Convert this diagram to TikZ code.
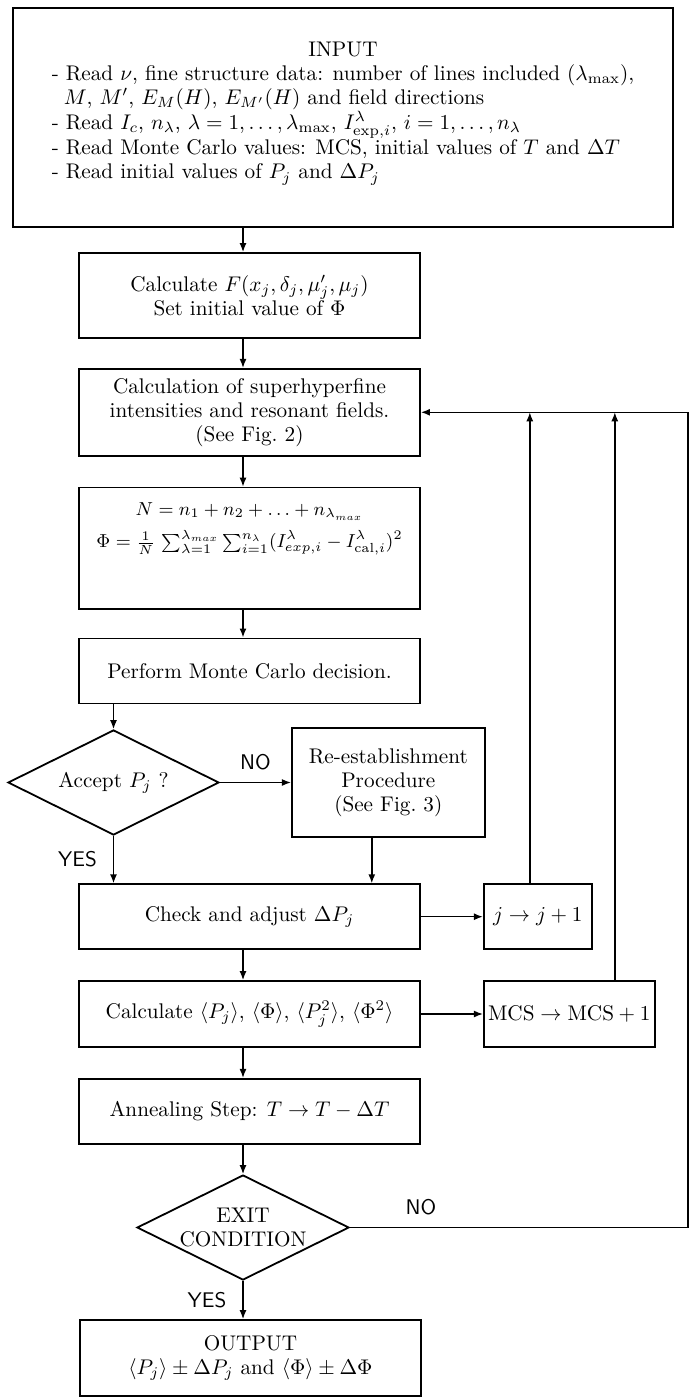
\RequirePackage{fix-cm}
\documentclass[tikz,border=0pt]{standalone}
\usepackage{amsmath}
\usetikzlibrary{arrows.meta,positioning,shapes.geometric}

\begin{document}
\fontsize{10.6}{12}\selectfont
\begin{tikzpicture}[
    x=0.5pt, y=-0.5pt,
    >={Latex[length=4.5pt,width=3.5pt]},
    block/.style={draw, line width=0.9pt, minimum width=170.5pt, align=center, inner sep=2pt},
    decision/.style={draw, diamond, aspect=2, line width=0.9pt, align=center, inner sep=0pt, minimum width=106pt, minimum height=52.5pt},
    arr/.style={->, line width=0.7pt},
    lab/.style={font=\sffamily, inner sep=2pt}
]
    \useasboundingbox (0,0) rectangle (690,1400);
    \coordinate (spine) at (243,0);
    \coordinate (rim) at (688,0);

    \node[block, minimum width=330pt, minimum height=109.5pt] (input) at (343,117.5) {INPUT\\
        \begin{tabular}[t]{@{}l@{}}
        - Read $\nu$, fine structure data: number of lines included ($\lambda_{\mathrm{max}}$),\\
        \hspace{6pt}$M$, $M'$, $E_M(H)$, $E_{M'}(H)$ and field directions\\
        - Read $I_c$, $n_\lambda$, $\lambda=1,\ldots,\lambda_{\mathrm{max}}$, $I^\lambda_{\mathrm{exp},i}$, $i=1,\ldots,n_\lambda$\\
        - Read Monte Carlo values: MCS, initial values of $T$ and $\Delta T$\\
        - Read initial values of $P_j$ and $\Delta P_j$\rule[-7pt]{0pt}{7pt}
        \end{tabular}};
    \node[block, minimum height=42.5pt] (calcF) at (249.5,295.5) {Calculate $F(x_j,\delta_j,\mu'_j,\mu_j)$\\Set initial value of $\Phi$};
    \node[block, minimum height=43.5pt, below=14.5pt of calcF] (superhf) {Calculation of superhyperfine\\intensities and resonant fields.\\(See Fig.~2)};
    \node[block, minimum height=60.5pt, below=15pt of superhf, font=\fontsize{9.4}{11}\selectfont] (sumbox) {$N=n_1+n_2+\ldots+n_{\lambda_{max}}$\\[4pt]
        $\Phi=\frac{1}{N}\,\sum_{\lambda=1}^{\lambda_{max}}\sum_{i=1}^{n_\lambda}(I^\lambda_{exp,i}-I^\lambda_{\mathrm{cal},i})^2$\rule[-23pt]{0pt}{0pt}};
    \node[block, minimum height=32.5pt, below=14pt of sumbox] (decide) {Perform Monte Carlo decision.};
    \node[decision, minimum width=105.5pt] (accept) at (113.5,782.5) {Accept $P_j$ ?};
    \node[block, minimum width=96.5pt, minimum height=54.5pt, right=35.5pt of accept] (reest) {Re-establishment\\Procedure\\(See Fig.~3)};
    \node[block, minimum height=32.5pt, below=89.5pt of decide] (check) {Check and adjust $\Delta P_j$};
    \node[block, minimum width=54pt, minimum height=32.5pt, right=31pt of check] (jnext) {$j\to j+1$};
    \node[block, minimum height=33pt, below=15pt of check] (calcP) {Calculate $\langle P_j\rangle$, $\langle\Phi\rangle$, $\langle P_j^2\rangle$, $\langle\Phi^2\rangle$};
    \node[block, minimum width=85.5pt, minimum height=33pt, right=31pt of calcP] (mcs) {$\mathrm{MCS}\to\mathrm{MCS}+1$};
    \node[block, minimum height=32.5pt, below=15pt of calcP] (anneal) {Annealing Step: $T\to T-\Delta T$};
    \node[decision] (exit) at (243,1227.5) {EXIT\\CONDITION};
    \node[block, minimum height=38pt] (output) at (250.5,1358) {OUTPUT\\$\langle P_j\rangle\pm\Delta P_j$ and $\langle\Phi\rangle\pm\Delta\Phi$};

    \draw[arr] (input.south -| spine) -- (calcF.north -| spine);
    \draw[arr] (calcF.south -| spine) -- (superhf.north -| spine);
    \draw[arr] (superhf.south -| spine) -- (sumbox.north -| spine);
    \draw[arr] (sumbox.south -| spine) -- (decide.north -| spine);
    \draw[arr] (decide.south -| accept.north) -- (accept.north);
    \draw[arr] (accept.east) -- node[lab, above=4pt]{NO} (reest.west |- accept.east);
    \draw[arr] (accept.south) -- node[lab, left=6pt]{YES} (check.north -| accept.south);
    \draw[arr] ([xshift=-8.25pt]reest.south) -- ([xshift=-8.25pt]reest.south |- check.north);
    \draw[arr] (check) -- (jnext);
    \draw[arr] (check.south -| spine) -- (calcP.north -| spine);
    \draw[arr] (calcP) -- (mcs);
    \draw[arr] (calcP.south -| spine) -- (anneal.north -| spine);
    \draw[arr] (anneal.south -| spine) -- (exit.north);
    \draw[arr] (exit.south) -- node[lab, left=6pt]{YES} (output.north -| exit.south);
    \draw[arr] (exit.east) -- node[lab, above=4pt, pos=0.21]{NO} (exit.east -| rim) |- (superhf.east);
    \draw[arr] ([xshift=-4pt]jnext.north) -- ([xshift=-4pt]jnext.north |- superhf.east);
    \draw[arr] ([xshift=22.75pt]mcs.north) -- ([xshift=22.75pt]mcs.north |- superhf.east);
\end{tikzpicture}
\end{document}
